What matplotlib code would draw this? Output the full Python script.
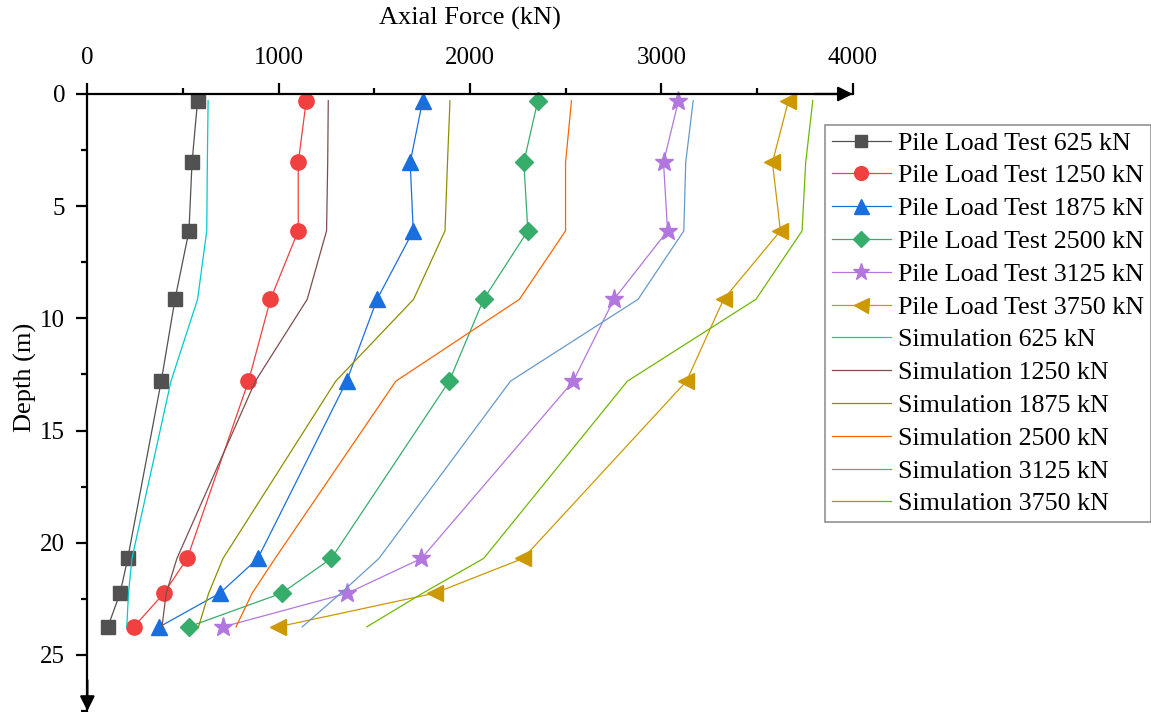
import matplotlib
matplotlib.use("Agg")
import matplotlib.pyplot as plt
from matplotlib.ticker import MultipleLocator

plt.rcParams['font.family'] = ['Liberation Serif', 'DejaVu Serif']

# depth of the strain gauge levels (m)
depth = [0.3, 3.05, 6.1, 9.15, 12.8, 20.7, 22.25, 23.75]

# measured axial force (kN) from the pile load test
plt_625 = [576, 547, 531, 458, 386, 211, 171, 107]
plt_1250 = [1144, 1102, 1102, 957, 842, 522, 400, 243]
plt_1875 = [1752, 1687, 1703, 1514, 1355, 891, 692, 376]
plt_2500 = [2354, 2281, 2302, 2071, 1891, 1275, 1015, 529]
plt_3125 = [3089, 3011, 3032, 2752, 2539, 1746, 1359, 709]
plt_3750 = [3664, 3580, 3622, 3325, 3131, 2277, 1815, 995]

# simulated axial force (kN)
sim_625 = [631, 627, 624, 576, 437, 233, 215, 206]
sim_1250 = [1259, 1256, 1250, 1149, 878, 468, 412, 390]
sim_1875 = [1895, 1882, 1869, 1705, 1298, 709, 634, 581]
sim_2500 = [2530, 2499, 2499, 2258, 1612, 981, 861, 777]
sim_3125 = [3166, 3127, 3117, 2878, 2211, 1524, 1324, 1123]
sim_3750 = [3791, 3754, 3735, 3494, 2822, 2071, 1752, 1460]

loads = ['625', '1250', '1875', '2500', '3125', '3750']
tests = [plt_625, plt_1250, plt_1875, plt_2500, plt_3125, plt_3750]
sims = [sim_625, sim_1250, sim_1875, sim_2500, sim_3125, sim_3750]

test_colors = ['#515151', '#F14040', '#1A6FDF', '#37AD6B', '#B177DE', '#CC9900']
sim_colors = ['#00CBCC', '#7D4E4E', '#8E8E00', '#FB6501', '#6699CC', '#6FB802']
markers = ['s', 'o', '^', 'D', '*', '<']
msizes = [10, 11, 12, 9, 14, 12]

fig = plt.figure(figsize=(11.51, 7.12), dpi=100)
ax = fig.add_axes([0.0759, 0.0014, 0.665, 0.8666])

for lo, vals, c, m, s in zip(loads, tests, test_colors, markers, msizes):
    ax.plot(vals, depth, color=c, lw=0.9, marker=m, ms=s, mec=c, mfc=c,
            clip_on=False, label='Pile Load Test ' + lo + ' kN')
for lo, vals, c in zip(loads, sims, sim_colors):
    ax.plot(vals, depth, color=c, lw=0.9, clip_on=False,
            label='Simulation ' + lo + ' kN')

ax.set_xlim(0, 4000)
ax.set_ylim(27.5, 0)

# axes on top and left only, with arrow heads
ax.spines['right'].set_visible(False)
ax.spines['bottom'].set_visible(False)
ax.spines['top'].set_linewidth(1.6)
ax.spines['left'].set_linewidth(1.6)
ax.annotate('', xy=(1.0, 1.0), xytext=(0.95, 1.0), xycoords='axes fraction',
            arrowprops=dict(arrowstyle='-|>', color='k', lw=1.6,
                            mutation_scale=22, shrinkA=0, shrinkB=0))
ax.annotate('', xy=(0.0, 0.0), xytext=(0.0, 0.05), xycoords='axes fraction',
            arrowprops=dict(arrowstyle='-|>', color='k', lw=1.6,
                            mutation_scale=22, shrinkA=0, shrinkB=0))

ax.xaxis.tick_top()
ax.xaxis.set_label_position('top')
ax.xaxis.set_major_locator(MultipleLocator(1000))
ax.xaxis.set_minor_locator(MultipleLocator(500))
ax.yaxis.set_major_locator(MultipleLocator(5))
ax.yaxis.set_minor_locator(MultipleLocator(2.5))
ax.set_yticks([0, 5, 10, 15, 20, 25])
ax.tick_params(which='major', direction='out', length=8, width=1.6, labelsize=18)
ax.tick_params(which='minor', direction='out', length=4.5, width=1.6)
ax.tick_params(axis='x', which='major', pad=10)
ax.tick_params(axis='y', which='major', pad=8)

ax.set_xlabel('Axial Force (kN)', fontsize=19, labelpad=16)
ax.set_ylabel('Depth (m)', fontsize=19)
ax.yaxis.set_label_coords(-0.0655, 0.54)

leg = ax.legend(loc='upper left', bbox_to_anchor=(0.7168, 0.8244),
                bbox_transform=fig.transFigure, fontsize=18.7, frameon=True,
                fancybox=False, edgecolor='#777777', handlelength=2.3,
                handletextpad=0.27, labelspacing=0.37, borderpad=0.25,
                borderaxespad=0, markerscale=0.9)
leg.get_frame().set_linewidth(1.2)

fig.savefig('out.png', dpi=100)
